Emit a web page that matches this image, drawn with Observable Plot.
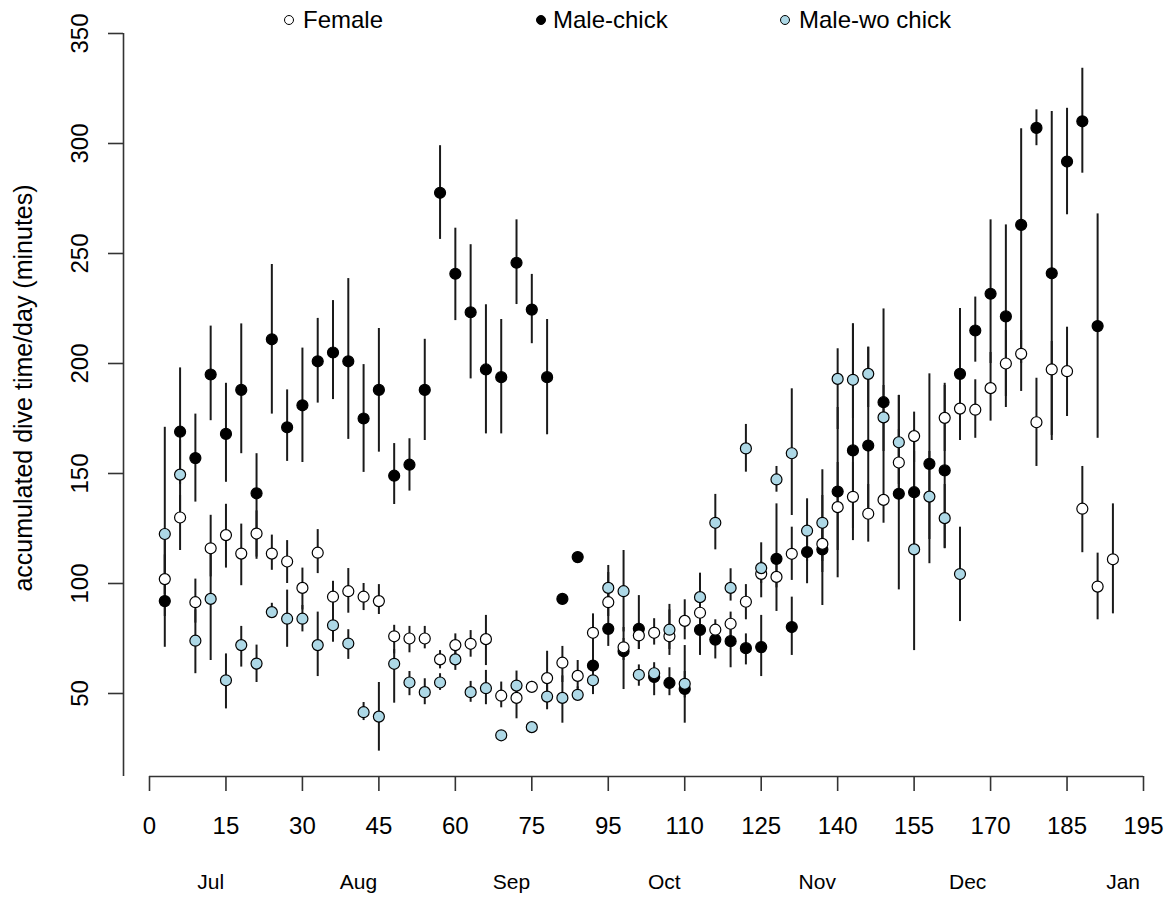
<!DOCTYPE html>
<html>
<head>
<meta charset="utf-8">
<script src="https://cdn.jsdelivr.net/npm/d3@7"></script>
<script src="https://cdn.jsdelivr.net/npm/@observablehq/plot@0.6"></script>
<style>
  html, body { margin: 0; padding: 0; background: #fff; }
  #wrap { position: relative; width: 1169px; height: 898px; font-family: "Liberation Sans", Arial, sans-serif; }
  #legend { position: absolute; left: 0; top: 0; width: 1169px; height: 40px; pointer-events: none; }
  .lg-mark { position: absolute; width: 8px; height: 8px; border: 1.3px solid #000; border-radius: 50%; top: 15px; }
  .lg-text { position: absolute; top: 8px; font-size: 24px; line-height: 24px; color: #000; white-space: nowrap; }
  #chart svg { display: block; overflow: visible; }
</style>
</head>
<body>
<div id="wrap">
  <div id="chart"></div>
  <div id="legend"></div>
</div>
<script>
// ---- data: [day, mean, lower, upper] ----
const female = [
  [3,102,85,125],[6,130,115,140],[9,91.5,82,102],[12,116,103,131],[15,122,107,136],[18,113.6,99,127],
  [21,122.7,112,133],[24,113.6,106,122],[27,110,100,119.5],[30,98,88,107],[33,114,104.5,124.5],[36,94,86,101],
  [39,96.5,86.5,106.8],[42,94,87.7,100],[45,92,85.9,99.5],[48,76,68,81],[51,75,68.5,80.5],[54,75,70.3,80.5],
  [57,65.5,61.2,69.5],[60,72,66.5,77.1],[63,72.6,66.5,78.6],[66,74.7,62.7,85.5],[69,49,43.5,55.2],[72,48,38.5,55],
  [75,53,50.5,55.5],[78,57,50,69.2],[81,64,55,71.4],[84,58,52,65],[87,77.6,70,86.2],[90,91.5,85,98],
  [93,71,65,80],[96,76.4,70,82],[99,77.6,72,84],[102,76,67.3,90.5],[105,83,74.4,92.6],[108,86.7,80,95],
  [111,79,75,83.5],[114,81.7,75,87],[117,91.7,83.5,99.5],[120,104.4,93.5,110],[123,103,87.3,112],[126,113.5,101.4,125.6],
  [132,118,105,130],[135,134.7,115,155],[138,139.4,125,155],[141,131.7,118.8,145],[144,138,127.4,150],[147,155,140,170],
  [150,167,155,177.9],[156,175.3,160,190],[159,179.5,166,192],[162,179,166,192.6],[165,188.8,173.8,205],[168,200,180,215],
  [171,204.4,187.3,215],[174,173.3,153.2,193.3],[177,197.3,167.3,210],[180,196.5,175.9,216.5],[183,134,114,153.2],
  [186,98.6,83.5,113.8],[189,111,86.2,136.2]
];
const maleChick = [
  [3,92,71,113],[6,169,145,198],[9,157,137,177],[12,195,174,217],[15,168,146,191],[18,188,159,218],
  [21,141,111,159],[24,211,177,245],[27,171,155.5,188],[30,181,155,207],[33,201,182,220.5],[36,205,183.6,228.6],
  [39,201,165.5,238.6],[42,175,150.5,199.5],[45,188,159.7,215.9],[48,149,135.9,163.6],[51,154,142,165.8],[54,188,165,211],
  [57,277.6,256.4,299],[60,240.8,219.5,261.5],[63,223.3,193,254],[66,197.3,168,226.7],[69,193.8,168,220],[72,245.8,226.8,265.3],
  [75,224.5,209,240.5],[78,193.8,167.6,220],[81,93,null,null],[84,112,null,null],[87,62.7,55,70],[90,79.4,71.4,108.2],
  [93,69.2,51.8,75],[96,79.4,70,94.5],[99,57.5,49,62],[102,54.8,49,61.7],[105,52.1,36.5,71.8],[108,78.9,67.3,85],
  [111,74.5,65.7,78],[114,73.8,61.7,80],[117,70.6,63,77.1],[120,71.1,57.7,85.5],[123,111.2,98,136.2],[126,80.2,67.3,93.8],
  [129,114.3,99.9,125],[132,115.5,90,140],[135,141.8,102.6,180],[138,160.5,119.5,218],[141,162.7,130,207.4],[144,182.4,150,224.8],
  [147,140.8,97.1,185.5],[150,141.5,115,170],[153,154.4,109,195.3],[156,151.4,115.8,191],[159,195.3,165,225],[162,215,200.6,230.2],
  [165,231.7,200,265.3],[168,221.4,185,263],[171,263,200,306.7],[174,307.1,299,315.3],[177,241,165,314.5],[180,291.8,267.6,316],
  [183,310.1,286.5,334.2],[186,217,166,268]
];
const maleWoChick = [
  [3,122.5,95,171],[6,149.5,130,165],[9,74,59,88],[12,93,65,115],[15,56,43,68],[18,72,62,80.5],
  [21,63.6,55,72],[24,87,84.5,91],[27,84,71,97],[30,84,78,90],[33,72,57.7,87],[36,81,73.3,88],
  [39,72.7,65.5,79],[42,41.5,37.7,45.9],[45,39.5,23.8,55],[48,63.5,45.6,70],[51,55,49,60],[54,50.6,44.9,56.7],
  [57,55,51.4,59],[60,65.5,60.5,70],[63,50.6,46,55.5],[66,52.4,44.9,60.5],[69,31,null,null],[72,53.6,47,60.2],
  [75,34.7,null,null],[78,48.6,42.6,55],[81,48,36.5,58],[84,49.4,46.8,53],[87,56,49.5,60],[90,98,90,105],
  [93,96.5,78,115],[96,58.5,53.3,63],[99,59.2,55,64],[102,79,70,88],[105,54.4,48,60],[108,93.8,88,104.7],
  [111,127.6,115.3,140.5],[114,98,92,106.7],[117,161.4,150.6,172.3],[120,107,100,118.5],[123,147.3,141.5,153.2],[126,159.2,130.9,188.5],
  [129,124,110,138.5],[132,127.6,110,151.7],[135,193,170,206.7],[138,192.6,175,218],[141,195.3,180,207.4],[144,175.5,160,190],
  [147,164.2,145,185.5],[150,115.5,69.5,160],[153,139.5,120,160],[156,129.7,116,145],[159,104.3,82.7,125.6]
];

const seriesNames = ["Female", "Male-chick", "Male-wo chick"];
const seriesFill = ["#ffffff", "#000000", "#add8e6"];

const xTickPos = [0,15,30,45,60,75,90,105,120,135,150,165,180,195];
const xTickLabels = ["0","15","30","45","60","75","95","110","125","140","155","170","185","195"];
const yTicks = [50,100,150,200,250,300,350];
const months = ["Jul","Aug","Sep","Oct","Nov","Dec","Jan"];
const monthPos = [12, 41, 71, 101, 131, 160.5, 191];
const yTitle = "accumulated dive time/day (minutes)";

// ---- build table ----
const toRows = (arr, s) => arr.map(([day, mean, lo, hi]) => ({series: s, day, mean, lo, hi}));
const fRows = toRows(female, seriesNames[0]);
const mRows = toRows(maleChick, seriesNames[1]);
const bRows = toRows(maleWoChick, seriesNames[2]);
const allRows = [...fRows, ...mRows, ...bRows];
const barRows = allRows.filter(d => d.lo != null && d.hi != null);

const yAxisFloor = 12.3; // bottom end of the drawn axis lines
const xAxisLeft = -5.1;  // x position of the vertical axis line

const font = "Liberation Sans, Arial, sans-serif";
const dotStyle = {x: "day", y: "mean", r: 5.5, stroke: "#000", strokeWidth: 1.2};

const chart = Plot.plot({
  width: 1169,
  height: 898,
  marginLeft: 123,
  marginRight: 26,
  marginTop: 33,
  marginBottom: 122,
  style: {fontFamily: font, background: "#fff", color: "#000", overflow: "visible"},
  x: {domain: [0, 195], range: [149, 1143]},
  y: {domain: [50, 350], range: [693, 33]},
  marks: [
    // axis lines
    Plot.ruleY([yAxisFloor], {x1: xTickPos[0], x2: xTickPos[xTickPos.length - 1], stroke: "#333", strokeWidth: 1.6}),
    Plot.ruleX([xAxisLeft], {y1: yAxisFloor, y2: yTicks[yTicks.length - 1], stroke: "#333", strokeWidth: 1.6}),
    // x axis ticks + labels
    Plot.axisX({
      ticks: xTickPos, tickSize: 15, tickPadding: 25, fontSize: 24, label: null,
      tickFormat: d => xTickLabels[xTickPos.indexOf(d)], stroke: "#333", strokeWidth: 1.6
    }),
    // y axis ticks (labels drawn rotated below)
    Plot.axisY({ticks: yTicks, tickSize: 15, label: null, tickFormat: () => "", stroke: "#333", strokeWidth: 1.6}),
    Plot.text(yTicks, {y: d => d, text: d => String(d), frameAnchor: "left", textAnchor: "middle", lineAnchor: "middle", dx: -43, rotate: -90, fontSize: 24, fill: "#000"}),
    // y title
    Plot.text([yTitle], {frameAnchor: "left", textAnchor: "middle", lineAnchor: "middle", dx: -100, dy: -17, rotate: -90, fontSize: 25, fill: "#000"}),
    // month labels
    Plot.text(months, {x: (d, i) => monthPos[i], frameAnchor: "bottom", lineAnchor: "middle", dy: 106, fontSize: 21, fill: "#000"}),
    // error bars
    Plot.ruleX(barRows, {x: "day", y1: "lo", y2: "hi", stroke: "#1a1a1a", strokeWidth: 2}),
    // points
    Plot.dot(mRows, {...dotStyle, fill: seriesFill[1]}),
    Plot.dot(fRows, {...dotStyle, fill: seriesFill[0]}),
    Plot.dot(bRows, {...dotStyle, fill: seriesFill[2]})
  ]
});
document.getElementById("chart").appendChild(chart);

// ---- legend ----
const legendMarkX = [289, 541, 785];
const legendTextX = [303, 553, 799];
const legend = document.getElementById("legend");
seriesNames.forEach((name, i) => {
  const m = document.createElement("div");
  m.className = "lg-mark";
  m.style.left = (legendMarkX[i] - 5) + "px";
  m.style.background = seriesFill[i];
  legend.appendChild(m);
  const t = document.createElement("div");
  t.className = "lg-text";
  t.style.left = legendTextX[i] + "px";
  t.textContent = name;
  legend.appendChild(t);
});
</script>
</body>
</html>
